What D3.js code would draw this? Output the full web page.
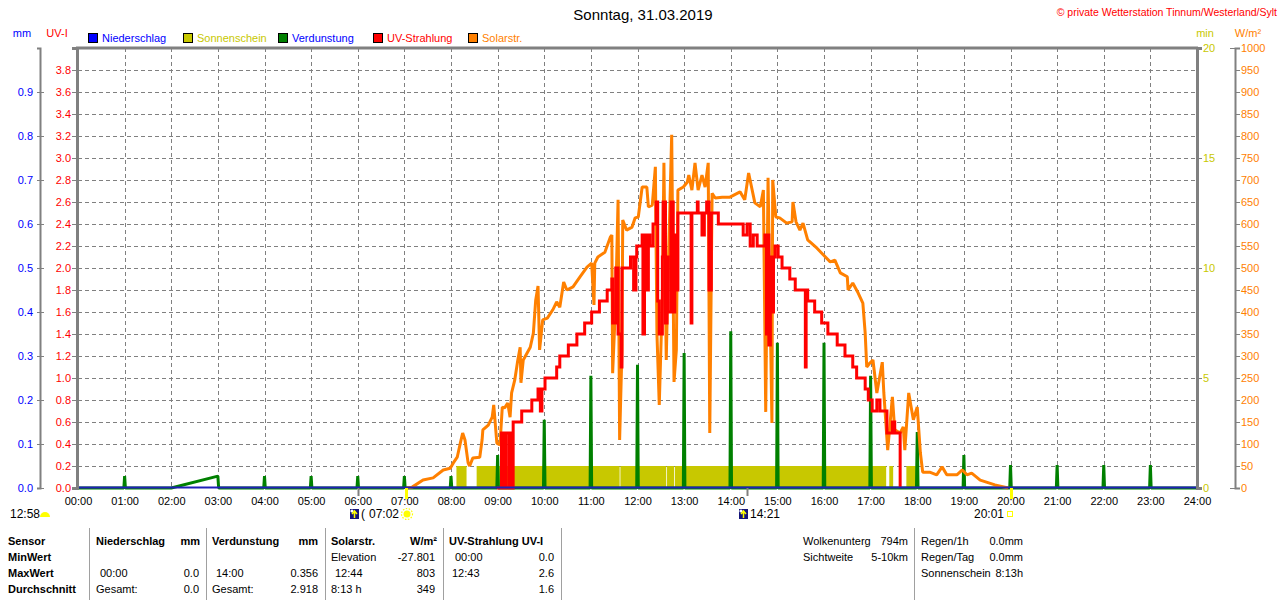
<!DOCTYPE html>
<html>
<head>
<meta charset="utf-8">
<script src="https://cdn.jsdelivr.net/npm/d3@7"></script>
<style>
  body { margin: 0; background: #fff; }
  svg { display: block; font-family: "Liberation Sans", Arial, sans-serif; font-size: 11px; }
</style>
</head>
<body>
<svg id="chart" width="1280" height="600"></svg>
<script>
// ---- data, Sonntag 31.03.2019 ----
var hourLabels = ["00:00","01:00","02:00","03:00","04:00","05:00","06:00","07:00","08:00","09:00","10:00","11:00",
  "12:00","13:00","14:00","15:00","16:00","17:00","18:00","19:00","20:00","21:00","22:00","23:00","24:00"];
var mmTicks = [0.0, 0.1, 0.2, 0.3, 0.4, 0.5, 0.6, 0.7, 0.8, 0.9];
var uvTicks = [0.0, 0.2, 0.4, 0.6, 0.8, 1.0, 1.2, 1.4, 1.6, 1.8, 2.0, 2.2, 2.4, 2.6, 2.8, 3.0, 3.2, 3.4, 3.6, 3.8];
var minTicks = [0, 5, 10, 15, 20];
var wTicks = [0, 50, 100, 150, 200, 250, 300, 350, 400, 450, 500, 550, 600, 650, 700, 750, 800, 850, 900, 950, 1000];

// Niederschlag (mm) - nothing all day
var niedTime = ["00:00", "24:00"];
var niedVal = [0, 0];

// Sonnenschein (min) bars
var sunStart = ["08:07", "08:33", "11:38", "12:38", "12:48", "17:24", "17:46"];
var sunEnd   = ["08:20", "11:37", "12:37", "12:47", "17:20", "17:29", "18:00"];
var sunVal   = [1, 1, 1, 1, 1, 1, 1];

// Verdunstung (mm) hourly readings, no readings between 02:00 and 03:00
var verdTime = ["01:00","03:00","04:00","05:00","06:00","07:00","08:00","09:00","10:00","11:00","12:00",
  "13:00","14:00","15:00","16:00","17:00","18:00","19:00","20:00","21:00","22:00","23:00"];
var verdVal = [0.027, 0.027, 0.027, 0.027, 0.027, 0.027, 0.027, 0.075, 0.155, 0.255, 0.28,
  0.307, 0.356, 0.33, 0.33, 0.255, 0.127, 0.075, 0.052, 0.052, 0.052, 0.052];
var verdGap = "02:00";

// UV-Strahlung (UV-I)
var uvTime = ["08:59","09:05","09:08","09:11","09:15","09:16","09:18","09:20","09:31","09:44","09:52","09:55","09:57",
  "10:01","10:16","10:20","10:31","10:42","10:52","11:01","11:11","11:21","11:27","11:28","11:32","11:35","11:39","11:40",
  "11:51","11:55","11:58","11:59","12:06","12:07","12:09","12:12","12:14","12:16","12:20","12:24","12:26","12:28","12:32",
  "12:33","12:36","12:38","12:39","12:43","12:46","12:48","12:51","12:52","13:09","13:10","13:17","13:18","13:23","13:26",
  "13:29","13:32","13:35","13:44","14:16","14:21","14:25","14:29","14:34","14:44","14:46","14:48","14:49","14:51","14:53",
  "14:55","14:57","15:01","15:06","15:16","15:23","15:36","15:37","15:39","15:48","15:57","16:05","16:17","16:27","16:37",
  "16:42","16:53","16:57","17:02","17:08","17:12","17:21","17:28","17:31","17:38"];
var uvVal = [0, 0.5, 0, 0.5, 0, 0.5, 0, 0.6, 0.7, 0.8, 0.9, 0.7, 0.9,
  1.0, 1.1, 1.2, 1.3, 1.4, 1.5, 1.6, 1.7, 1.8, 1.9, 1.5, 2.0, 1.4, 1.1, 2.0,
  2.1, 1.8, 2.1, 2.2, 2.3, 1.4, 2.3, 1.8, 2.3, 2.2, 2.4, 2.6, 1.7, 1.4, 2.1,
  2.6, 1.5, 2.1, 1.6, 2.6, 1.6, 2.3, 1.8, 2.5, 1.5, 2.5, 2.6, 2.5, 2.3, 2.5,
  2.6, 1.8, 2.5, 2.4, 2.3, 2.4, 2.2, 2.3, 2.2, 2.3, 1.4, 2.3, 1.3, 2.1, 1.6,
  2.1, 2.2, 2.1, 2.0, 1.9, 1.8, 1.1, 1.8, 1.7, 1.6, 1.5, 1.4, 1.3, 1.2, 1.1,
  1.0, 0.9, 0.8, 0.7, 0.8, 0.7, 0.5, 0.6, 0.5, 0];

// Solarstrahlung (W/m2)
var solarTime = ["07:03","07:10","07:24","07:37","07:50","07:59","08:03","08:08","08:12","08:15","08:18","08:22","08:24",
  "08:28","08:37","08:40","08:41","08:48","08:53","08:55","08:59","09:03","09:06","09:09","09:13","09:16","09:18","09:22",
  "09:26","09:29","09:30","09:33","09:42","09:46","09:49","09:52","09:54","09:58","10:04","10:11","10:16","10:20","10:25",
  "10:29","10:37","10:46","10:55","11:01","11:04","11:05","11:09","11:18","11:25","11:27","11:28","11:32","11:35","11:37",
  "11:40","11:41","11:46","11:53","11:57","12:01","12:06","12:12","12:14","12:19","12:23","12:25","12:28","12:32","12:34",
  "12:37","12:39","12:44","12:47","12:50","12:52","12:59","13:04","13:06","13:10","13:14","13:18","13:23","13:27","13:31",
  "13:33","13:36","13:40","13:49","13:59","14:12","14:18","14:23","14:31","14:38","14:42","14:45","14:48","14:53","14:54",
  "14:58","15:03","15:12","15:19","15:20","15:24","15:29","15:33","15:39","15:51","15:59","16:08","16:14","16:21","16:30",
  "16:31","16:37","16:44","16:50","16:53","16:55","16:59","17:03","17:08","17:15","17:17","17:22","17:28","17:31","17:38",
  "17:42","17:44","17:49","17:55","18:00","18:04","18:07","18:16","18:25","18:32","18:38","18:51","18:58","19:04","19:10",
  "19:21","19:40","19:57"];
var solarVal = [0, 2, 18, 23, 41, 45, 57, 70, 102, 125, 109, 57, 50,
  68, 70, 109, 132, 143, 161, 189, 102, 98, 184, 182, 193, 161, 216, 245,
  291, 320, 239, 291, 320, 352, 427, 459, 314, 382, 386, 405, 423, 411, 468,
  450, 457, 480, 502, 511, 416, 511, 525, 536, 570, 575, 261, 427, 655, 109,
  314, 609, 586, 593, 614, 616, 684, 684, 639, 643, 730, 352, 189, 434, 739,
  291, 457, 803, 241, 314, 677, 684, 695, 711, 677, 739, 677, 711, 684, 739,
  125, 670, 659, 661, 661, 673, 655, 716, 648, 639, 677, 173, 705, 148, 700,
  616, 614, 602, 605, 650, 605, 586, 602, 564, 545, 530, 514, 518, 489, 480,
  450, 466, 443, 420, 352, 275, 284, 291, 216, 286, 216, 86, 207, 132, 125,
  139, 86, 216, 155, 184, 80, 36, 36, 30, 48, 30, 30, 41, 30, 34,
  18, 7, 0];

// sun / moon marks under the time axis
var eventTime = ["06:00", "07:02", "14:21", "20:01"];
var eventType = ["moon", "sunrise", "moon", "sunset"];

var legendNames = ["Niederschlag", "Sonnenschein", "Verdunstung", "UV-Strahlung", "Solarstr."];
var legendBox   = ["#0000ff", "#c8c800", "#008000", "#ff0000", "#ff8000"];
var legendText  = ["#0000ff", "#c8c800", "#0000ff", "#ff0000", "#ff8000"];

// ---- layout ----
// (window.top is read-only, so the plot edges get their own names)
var plotL = 78, plotR = 1197, plotT = 48, plotB = 488;
var font = '"Liberation Sans", Arial, sans-serif';
var grey = '#808080';

function toMin(s) {
  var p = s.split(':');
  return +p[0] * 60 + +p[1];
}

var svg = d3.select('#chart');

var x = d3.scaleLinear().domain([0, 1440]).range([plotL, plotR]);
var yMM = d3.scaleLinear().domain([0, 1]).range([plotB, plotT]);
var yUV = d3.scaleLinear().domain([0, 4]).range([plotB, plotT]);
var yMin = d3.scaleLinear().domain([0, 20]).range([plotB, plotT]);
var yW = d3.scaleLinear().domain([0, 1000]).range([plotB, plotT]);

// dashed grid
var grid = svg.append('g')
  .attr('stroke', grey)
  .attr('stroke-width', 1)
  .attr('stroke-dasharray', '4,3');
grid.selectAll('.hg').data(uvTicks.slice(1)).join('line')
  .attr('class', 'hg')
  .attr('x1', plotL).attr('x2', plotR)
  .attr('y1', function(d) { return Math.round(yUV(d)) + 0.5; })
  .attr('y2', function(d) { return Math.round(yUV(d)) + 0.5; });
grid.selectAll('.vg').data(hourLabels.slice(1, -1)).join('line')
  .attr('class', 'vg')
  .attr('y1', plotT).attr('y2', plotB)
  .attr('x1', function(d) { return Math.round(x(toMin(d))) + 0.5; })
  .attr('x2', function(d) { return Math.round(x(toMin(d))) + 0.5; });

// Sonnenschein bars
svg.append('g').selectAll('rect').data(sunStart).join('rect')
  .attr('x', function(d) { return x(toMin(d)); })
  .attr('width', function(d, i) { return x(toMin(sunEnd[i])) - x(toMin(d)); })
  .attr('y', function(d, i) { return yMin(sunVal[i]); })
  .attr('height', function(d, i) { return yMin(0) - yMin(sunVal[i]); })
  .attr('fill', '#c8c800');

// Verdunstung: a reading at each full hour, zero in between
var gapT = toMin(verdGap);
var verdPts = [{ t: 0, v: 0 }];
verdTime.forEach(function(s, i) {
  var t = toMin(s);
  var prev = verdPts[verdPts.length - 1].t;
  if (prev <= gapT && t > gapT + 1) {
    verdPts.push({ t: gapT, v: 0 });
  } else {
    verdPts.push({ t: t - 1, v: 0 });
  }
  verdPts.push({ t: t, v: verdVal[i] });
  verdPts.push({ t: t + 1, v: 0 });
});
verdPts.push({ t: 1440, v: 0 });

svg.append('path')
  .datum(verdPts)
  .attr('fill', 'none')
  .attr('stroke', '#008000')
  .attr('stroke-width', 3)
  .attr('stroke-linejoin', 'bevel')
  .attr('d', d3.line()
    .x(function(d) { return x(d.t); })
    .y(function(d) { return yMM(d.v); }));

// Solarstrahlung
svg.append('path')
  .datum(solarTime)
  .attr('fill', 'none')
  .attr('stroke', '#ff8000')
  .attr('stroke-width', 3)
  .attr('stroke-linejoin', 'bevel')
  .attr('d', d3.line()
    .x(function(d) { return x(toMin(d)); })
    .y(function(d, i) { return yW(solarVal[i]); }));

// UV-Strahlung (stepped)
svg.append('path')
  .datum(uvTime)
  .attr('fill', 'none')
  .attr('stroke', '#ff0000')
  .attr('stroke-width', 3)
  .attr('d', d3.line()
    .curve(d3.curveStepAfter)
    .x(function(d) { return x(toMin(d)); })
    .y(function(d, i) { return yUV(uvVal[i]); }));

// Niederschlag
svg.append('path')
  .datum(niedTime)
  .attr('fill', 'none')
  .attr('stroke', '#2020b8')
  .attr('stroke-width', 2)
  .attr('d', d3.line()
    .x(function(d) { return x(toMin(d)); })
    .y(function(d, i) { return yMM(niedVal[i]) - 0.5; }));

// top border of the plot
svg.append('line')
  .attr('x1', plotL - 2).attr('x2', plotR + 1)
  .attr('y1', plotT).attr('y2', plotT)
  .attr('stroke', grey).attr('stroke-width', 3);

function styleAxis(g, color, domainWidth) {
  g.attr('font-family', font).attr('font-size', 11);
  g.select('.domain').attr('stroke', grey).attr('stroke-width', domainWidth);
  g.selectAll('.tick line').attr('stroke', grey);
  g.selectAll('.tick text').attr('fill', color);
}

var f1 = d3.format('.1f');
var f0 = d3.format('d');

// mm axis (blue)
var gMM = svg.append('g')
  .attr('transform', 'translate(40,0)')
  .call(d3.axisLeft(yMM).tickValues(mmTicks).tickFormat(f1).tickSizeOuter(0).tickSize(3).tickPadding(4));
styleAxis(gMM, '#0000ff', 2);
gMM.selectAll('.tick line').attr('x1', 4);

// UV-I axis (red) on the plot's left border
var gUV = svg.append('g')
  .attr('transform', 'translate(' + (plotL - 1) + ',0)')
  .call(d3.axisLeft(yUV).tickValues(uvTicks).tickFormat(f1).tickSizeOuter(0).tickSize(5).tickPadding(1));
styleAxis(gUV, '#ff0000', 3);

// min axis (yellow) on the right border
var gMin = svg.append('g')
  .attr('transform', 'translate(' + plotR + ',0)')
  .call(d3.axisRight(yMin).tickValues(minTicks).tickFormat(f0).tickSizeOuter(0).tickSize(5).tickPadding(1));
styleAxis(gMin, '#c8c800', 3);

// W/m2 axis (orange)
var gW = svg.append('g')
  .attr('transform', 'translate(1235,0)')
  .call(d3.axisRight(yW).tickValues(wTicks).tickFormat(f0).tickSizeOuter(0).tickSize(5).tickPadding(1));
styleAxis(gW, '#ff8000', 2);
gW.selectAll('.tick line').filter(function(d) { return d === 0 || d === 1000; }).attr('x1', -5);

// time axis
var gX = svg.append('g')
  .attr('transform', 'translate(0,' + plotB + ')')
  .call(d3.axisBottom(x)
    .tickValues(hourLabels.map(toMin))
    .tickFormat(function(d, i) { return hourLabels[i]; })
    .tickSize(0).tickPadding(9));
gX.attr('font-family', font).attr('font-size', 11);
gX.select('.domain').remove();
gX.selectAll('.tick text').attr('fill', '#000');

// unit labels
var units = [
  { x: 22, t: 'mm', c: '#0000ff' },
  { x: 57, t: 'UV-I', c: '#ff0000' },
  { x: 1205, t: 'min', c: '#c8c800' },
  { x: 1248, t: 'W/m²', c: '#ff8000' }
];
svg.append('g').selectAll('text').data(units).join('text')
  .attr('x', function(d) { return d.x; })
  .attr('y', 33)
  .attr('dy', '0.35em')
  .attr('text-anchor', 'middle')
  .attr('fill', function(d) { return d.c; })
  .text(function(d) { return d.t; });

// legend
var legendX = [88, 183, 278, 373, 468];
var lg = svg.append('g').selectAll('g').data(legendNames).join('g')
  .attr('transform', function(d, i) { return 'translate(' + legendX[i] + ',33)'; });
lg.append('rect')
  .attr('x', 0.5).attr('y', 0.5).attr('width', 9).attr('height', 9)
  .attr('fill', function(d, i) { return legendBox[i]; })
  .attr('stroke', '#000');
lg.append('text')
  .attr('x', 14).attr('y', 5).attr('dy', '0.35em')
  .attr('fill', function(d, i) { return legendText[i]; })
  .text(function(d) { return d; });

// title and copyright
svg.append('text')
  .attr('x', 643).attr('y', 15).attr('dy', '0.35em')
  .attr('text-anchor', 'middle')
  .attr('font-size', 15)
  .text('Sonntag, 31.03.2019');
svg.append('text')
  .attr('x', 1277).attr('y', 12).attr('dy', '0.35em')
  .attr('text-anchor', 'end')
  .attr('font-size', 10.5)
  .attr('fill', '#ff0000')
  .text('© private Wetterstation Tinnum/Westerland/Sylt');

// sun / moon marks
var ev = svg.append('g');
eventTime.forEach(function(s, i) {
  var ex = Math.round(x(toMin(s)));
  var type = eventType[i];
  var moon = type === 'moon';
  ev.append('line')
    .attr('x1', ex + 0.5).attr('x2', ex + 0.5)
    .attr('y1', plotB).attr('y2', moon ? 496 : 499)
    .attr('stroke', moon ? grey : '#ffff00').attr('stroke-width', moon ? 2 : 3);
  if (moon) {
    ev.append('rect').attr('x', ex - 8).attr('y', 509).attr('width', 9).attr('height', 10).attr('fill', '#14147a');
    ev.append('circle').attr('cx', ex - 6).attr('cy', 511).attr('r', 1.6).attr('fill', '#fff');
    ev.append('path').attr('d', 'M' + (ex - 3.5) + ',518V512M' + (ex - 6) + ',514L' + (ex - 3.5) + ',511L' + (ex - 1) + ',514')
      .attr('stroke', '#ffff00').attr('stroke-width', 1.5).attr('fill', 'none');
    ev.append('text').attr('x', ex + 3).attr('y', 514).attr('dy', '0.35em').attr('font-size', 12)
      .text(s === '14:21' ? s : '(');
  } else if (type === 'sunrise') {
    ev.append('text').attr('x', ex - 7).attr('y', 514).attr('dy', '0.35em').attr('text-anchor', 'end').attr('font-size', 12).text(s);
    ev.append('circle').attr('cx', ex + 1).attr('cy', 514).attr('r', 3.5).attr('fill', '#ffff00');
    ev.append('circle').attr('cx', ex + 1).attr('cy', 514).attr('r', 5.5).attr('fill', 'none')
      .attr('stroke', '#ffff00').attr('stroke-width', 1.2).attr('stroke-dasharray', '1.5,1.5');
  } else {
    ev.append('text').attr('x', ex - 7).attr('y', 514).attr('dy', '0.35em').attr('text-anchor', 'end').attr('font-size', 12).text(s);
    ev.append('rect').attr('x', ex - 3.5).attr('y', 511.5).attr('width', 5).attr('height', 5)
      .attr('fill', 'none').attr('stroke', '#ffff00').attr('stroke-width', 1);
  }
});

// day length
svg.append('text').attr('x', 10).attr('y', 514).attr('dy', '0.35em').attr('font-size', 12).text('12:58');
svg.append('path').attr('d', 'M40,517A5,5 0 0 1 50,517Z').attr('fill', '#ffff00');

// bottom table
var sepX = [89, 206, 325, 443, 561, 914];
svg.append('g').selectAll('line').data(sepX).join('line')
  .attr('x1', function(d) { return d + 0.5; })
  .attr('x2', function(d) { return d + 0.5; })
  .attr('y1', 528).attr('y2', 600)
  .attr('stroke', '#a0a0a0');

var rowY = [541, 557, 573, 589];
var cells = [
  [8, 0, 'Sensor', 'start', true], [8, 1, 'MinWert', 'start', true], [8, 2, 'MaxWert', 'start', true], [8, 3, 'Durchschnitt', 'start', true],
  [96, 0, 'Niederschlag', 'start', true], [200, 0, 'mm', 'end', true],
  [100, 2, '00:00', 'start'], [199, 2, '0.0', 'end'],
  [96, 3, 'Gesamt:', 'start'], [199, 3, '0.0', 'end'],
  [212, 0, 'Verdunstung', 'start', true], [318, 0, 'mm', 'end', true],
  [216, 2, '14:00', 'start'], [318, 2, '0.356', 'end'],
  [212, 3, 'Gesamt:', 'start'], [318, 3, '2.918', 'end'],
  [331, 0, 'Solarstr.', 'start', true], [437, 0, 'W/m²', 'end', true],
  [331, 1, 'Elevation', 'start'], [435, 1, '-27.801', 'end'],
  [335, 2, '12:44', 'start'], [435, 2, '803', 'end'],
  [331, 3, '8:13 h', 'start'], [435, 3, '349', 'end'],
  [449, 0, 'UV-Strahlung UV-I', 'start', true],
  [455, 1, '00:00', 'start'], [554, 1, '0.0', 'end'],
  [452, 2, '12:43', 'start'], [554, 2, '2.6', 'end'],
  [554, 3, '1.6', 'end'],
  [803, 0, 'Wolkenunterg', 'start'], [908, 0, '794m', 'end'],
  [803, 1, 'Sichtweite', 'start'], [908, 1, '5-10km', 'end'],
  [921, 0, 'Regen/1h', 'start'], [1023, 0, '0.0mm', 'end'],
  [921, 1, 'Regen/Tag', 'start'], [1023, 1, '0.0mm', 'end'],
  [921, 2, 'Sonnenschein', 'start'], [1023, 2, '8:13h', 'end']
];
svg.append('g').selectAll('text').data(cells).join('text')
  .attr('x', function(d) { return d[0]; })
  .attr('y', function(d) { return rowY[d[1]]; })
  .attr('dy', '0.35em')
  .attr('text-anchor', function(d) { return d[3]; })
  .attr('font-weight', function(d) { return d[4] ? 'bold' : 'normal'; })
  .text(function(d) { return d[2]; });
</script>
</body>
</html>
